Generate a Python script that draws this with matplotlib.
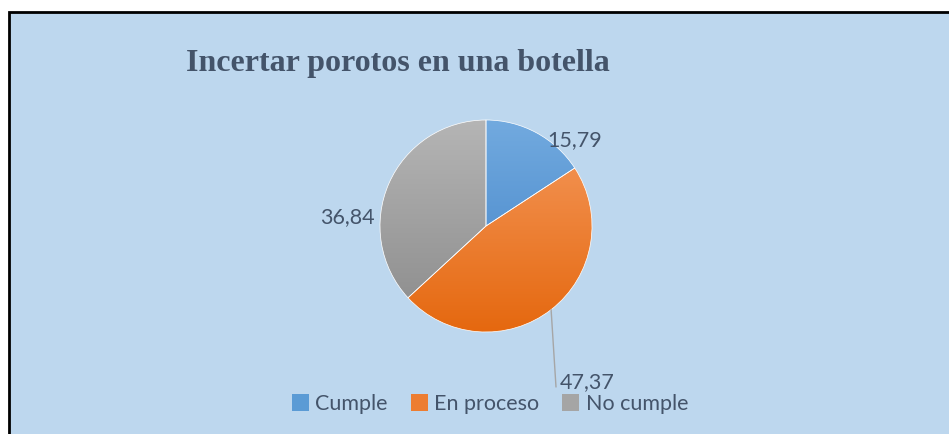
import matplotlib.pyplot as plt
import numpy as np
from matplotlib.colors import LinearSegmentedColormap
from matplotlib.patches import Rectangle, Patch

labels = ["Cumple", "En proceso", "No cumple"]
values = [15.79, 47.37, 36.84]
value_text = ["15,79", "47,37", "36,84"]

# gradient colours (top -> bottom), plus a flat colour for the legend
top_colors = ["#72AADF", "#F59A5E", "#B5B5B5"]
bottom_colors = ["#3E80C6", "#E5680F", "#8A8A8A"]
flat_colors = ["#5B9BD5", "#ED7D31", "#A5A5A5"]

W, H = 949, 434
txt_color = "#44546A"

fig = plt.figure(figsize=(W / 100, H / 100), dpi=100)
fig.patch.set_facecolor("white")
ax = fig.add_axes([0, 0, 1, 1])

# chart area with black top/left border
ax.add_patch(Rectangle((9, -20), W + 20, H - 12 + 20, facecolor="#BDD7EE",
                       edgecolor="black", lw=2, zorder=0))

cx, cy, r = 486, H - 226, 106
wedges, _ = ax.pie(values, startangle=90, counterclock=False, center=(cx, cy),
                   radius=r, frame=True,
                   wedgeprops=dict(edgecolor="white", linewidth=0.5))

grad = np.linspace(0, 1, 256).reshape(-1, 1)
for w, c1, c2 in zip(wedges, top_colors, bottom_colors):
    cmap = LinearSegmentedColormap.from_list("g", [c1, c2])
    im = ax.imshow(grad, cmap=cmap, extent=(cx - r, cx + r, cy - r, cy + r),
                   origin="upper", aspect="auto", zorder=2)
    im.set_clip_path(w)
    w.set_facecolor("none")
    w.set_zorder(3)

# data labels
label_pos = [(575, 140), (587, 382), (347, 217)]
for t, (x, y) in zip(value_text, label_pos):
    ax.text(x, H - y, t, ha="center", va="center", fontsize=15.5,
            family="Lato", color=txt_color, zorder=5)

# leader line for the bottom label
w = wedges[1]
ang = np.deg2rad((w.theta1 + w.theta2) / 2)
ax.annotate("", xy=(cx + r * np.cos(ang), cy + r * np.sin(ang)),
            xytext=(556, H - 387),
            arrowprops=dict(arrowstyle="-", color="#A6A6A6", lw=1,
                            shrinkA=0, shrinkB=0), zorder=4)

ax.text(398, H - 64, "Incertar porotos en una botella", ha="center",
        va="center", fontsize=23, fontweight="bold", family="Liberation Serif",
        color=txt_color)

handles = [Patch(facecolor=c) for c in flat_colors]
ax.legend(handles, labels, loc="center", bbox_to_anchor=(490 / W, 1 - 404 / H),
          ncol=3, frameon=False, handlelength=0.8, handleheight=0.8,
          handletextpad=0.3, columnspacing=1.05,
          prop=dict(family="Lato", size=15.5), labelcolor=txt_color)

ax.set_xlim(0, W)
ax.set_ylim(0, H)
ax.axis("off")

fig.savefig("out.png", dpi=100, facecolor="white")
